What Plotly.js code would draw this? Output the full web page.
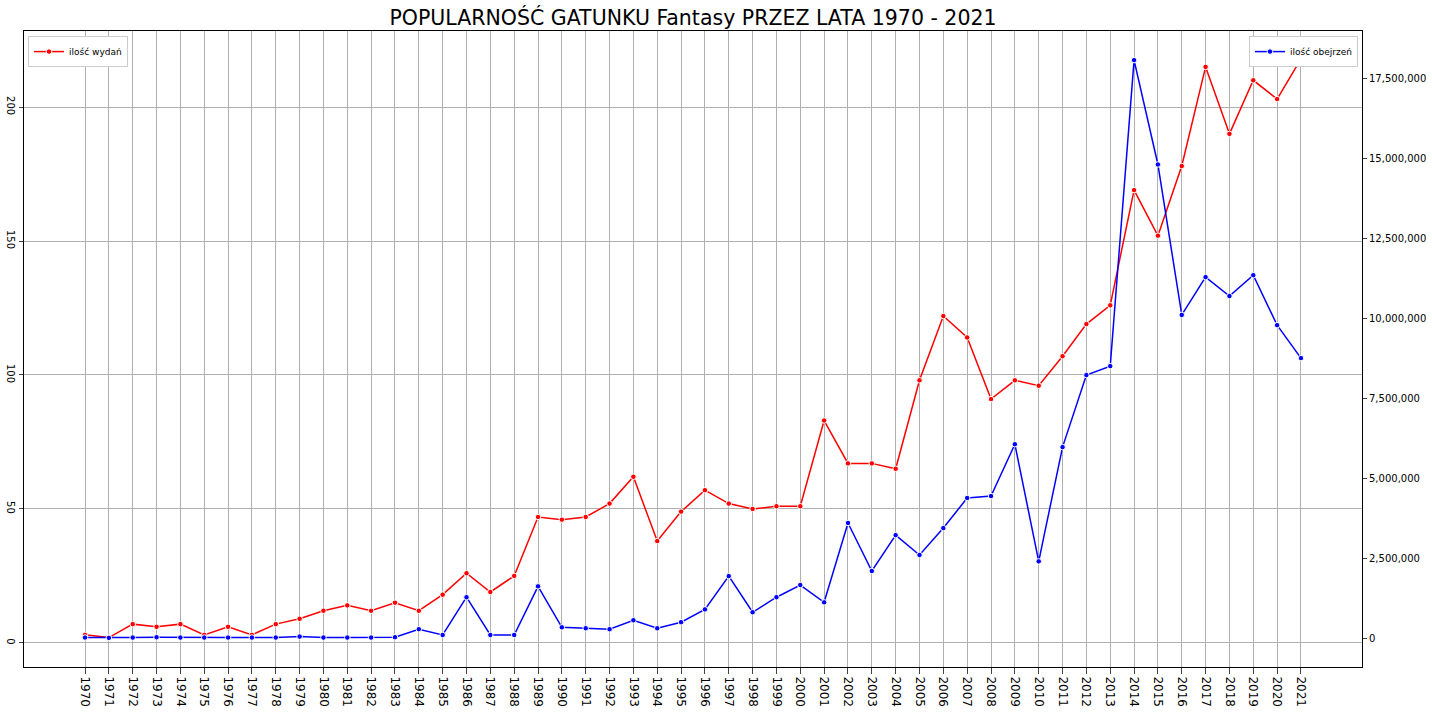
<!DOCTYPE html>
<html>
<head>
<meta charset="utf-8">
<script src="https://cdn.plot.ly/plotly-3.0.1.min.js"></script>
<style>body{margin:0;background:#fff}#chart{width:1432px;height:712px}</style>
</head>
<body>
<div id="chart"></div>
<script>
const years = [];
for (let y = 1970; y <= 2021; y++) years.push(y);

// ilość wydań (left axis)
const editions = [3, 2, 7, 6, 7, 3, 6, 3, 7, 9, 12, 14, 12, 15, 12, 18, 26, 19, 25, 47,
  46, 47, 52, 62, 38, 49, 57, 52, 50, 51, 51, 83, 67, 67, 65, 98, 122, 114, 91, 98,
  96, 107, 119, 126, 169, 152, 178, 215, 190, 210, 203, 218];

// ilość obejrzeń (right axis)
const views = [20000, 10000, 20000, 30000, 20000, 20000, 20000, 20000, 20000, 50000,
  20000, 20000, 20000, 30000, 280000, 100000, 1280000, 100000, 100000, 1620000,
  340000, 310000, 280000, 560000, 310000, 500000, 900000, 1940000, 810000, 1280000,
  1660000, 1120000, 3600000, 2100000, 3220000, 2600000, 3440000, 4380000, 4440000, 6060000,
  2400000, 5970000, 8220000, 8500000, 18060000, 14800000, 10100000, 11280000, 10690000, 11340000,
  9780000, 8750000];

const font = {family: 'DejaVu Sans', size: 10, color: '#000'};

const data = [
  {x: years, y: editions, type: 'scatter', mode: 'lines+markers', name: 'ilość wydań',
   line: {color: 'red', width: 1.5}, marker: {color: 'red', size: 5.5, line: {color: 'white', width: 1}},
   legend: 'legend', cliponaxis: false},
  {x: years, y: views, type: 'scatter', mode: 'lines+markers', name: 'ilość obejrzeń', yaxis: 'y2',
   line: {color: 'blue', width: 1.5}, marker: {color: 'blue', size: 5.5, line: {color: 'white', width: 1}},
   legend: 'legend2', cliponaxis: false}
];

const layout = {
  width: 1432, height: 712,
  margin: {l: 24, r: 70, t: 31, b: 45},
  paper_bgcolor: 'white', plot_bgcolor: 'white',
  font: font,
  showlegend: true,
  title: {text: 'POPULARNOŚĆ GATUNKU Fantasy PRZEZ LATA 1970 - 2021', xref: 'paper', x: 0.5, y: 0.985,
          yanchor: 'top', font: {family: 'DejaVu Sans', size: 20.5, color: '#000'}},
  xaxis: {range: [1967.44, 2023.56], tickvals: years, ticktext: years.map(String), tickangle: 90,
          showgrid: true, gridcolor: '#b0b0b0', zeroline: false, showline: true, mirror: true,
          linecolor: '#000', ticks: 'outside', ticklen: 6, tickfont: {family: 'DejaVu Sans', size: 12}},
  yaxis: {range: [-9, 228.4], tickvals: [0, 50, 100, 150, 200], tickangle: 90,
          showgrid: true, gridcolor: '#b0b0b0', zeroline: false, showline: true, mirror: true,
          linecolor: '#000', ticks: 'outside', ticklen: 4},
  yaxis2: {overlaying: 'y', side: 'right', range: [-900000, 18970000],
           tickvals: [0, 2500000, 5000000, 7500000, 10000000, 12500000, 15000000, 17500000],
           tickformat: ',d', showgrid: false, zeroline: false, ticks: 'outside', ticklen: 4,
           linecolor: '#000'},
  legend: {x: 0.003, y: 0.992, xanchor: 'left', yanchor: 'top', bgcolor: 'white',
           bordercolor: '#ccc', borderwidth: 1, itemwidth: 30, tracegroupgap: 0,
           font: {family: 'DejaVu Sans', size: 9}},
  legend2: {x: 0.997, y: 0.992, xanchor: 'right', yanchor: 'top', bgcolor: 'white',
            bordercolor: '#ccc', borderwidth: 1, itemwidth: 30,
            font: {family: 'DejaVu Sans', size: 9}}
};

Plotly.newPlot('chart', data, layout, {displayModeBar: false, staticPlot: true});
</script>
</body>
</html>
